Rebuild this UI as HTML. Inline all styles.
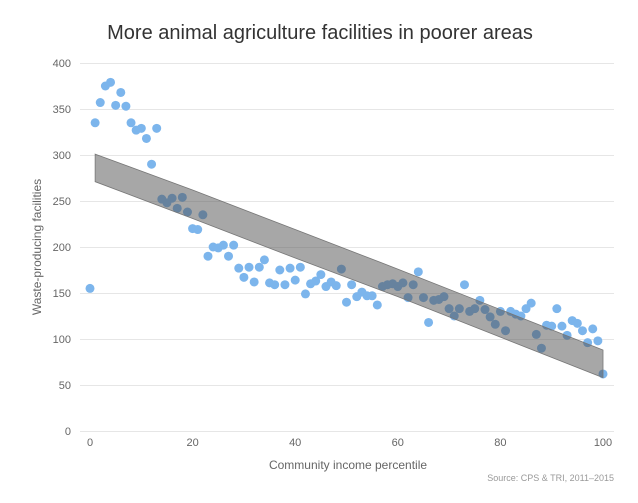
<!DOCTYPE html>
<html><head><meta charset="utf-8"><style>
body{margin:0;background:#fff;font-family:"Liberation Sans",Arial,sans-serif}
svg text{font-family:"Liberation Sans",Arial,sans-serif}
</style></head><body>
<svg id="c" width="638" height="498">
<text x="320" y="39" text-anchor="middle" font-size="20" fill="#333">More animal agriculture facilities in poorer areas</text>
<g id="grid"></g><g id="pts"></g><g id="band"></g><g id="axes"></g>
<text transform="translate(41,247) rotate(-90)" text-anchor="middle" font-size="12" fill="#666">Waste-producing facilities</text>
<text x="348" y="469" text-anchor="middle" font-size="12" fill="#666">Community income percentile</text>
<text x="614" y="481" text-anchor="end" font-size="9" fill="#999">Source: CPS &amp; TRI, 2011–2015</text>
</svg>
<script>
const yTicks=[0,50,100,150,200,250,300,350,400];
const xTicks=[0,20,40,60,80,100];
const values=[155,335,357,375,379,354,368,353,335,327,329,318,290,329,252,248,253,242,254,238,220,219,235,190,200,199,202,190,202,177,167,178,162,178,186,161,159,175,159,177,164,178,149,160,163,170,157,162,158,176,140,159,146,151,147,147,137,157,159,160,157,161,145,159,173,145,118,142,143,146,133,125,133,159,130,133,142,132,124,116,130,109,130,127,125,133,139,105,90,115,114,133,114,104,120,117,109,96,111,98,62];
const bandX=[1,20,40,60,80,100];
const bandHigh=[301,262,219,176,132,88];
const bandLow=[271,231,188,146,102,58];
const ns="http://www.w3.org/2000/svg";
const X=v=>90+v*5.13, Y=v=>431-v*0.92;
function mk(t,a,p){const e=document.createElementNS(ns,t);for(const k in a)e.setAttribute(k,a[k]);p.appendChild(e);return e;}
const grid=document.getElementById('grid'),axes=document.getElementById('axes');
yTicks.forEach(v=>{
 const l=mk('line',{x1:80,x2:614,y1:Y(v)+0.5,y2:Y(v)+0.5,stroke:'#e6e6e6'},grid);
 
 
 const t=mk('text',{x:71,y:Y(v)+4,'text-anchor':'end','font-size':11,fill:'#666'},axes);
 t.textContent=v;
 
 
});
xTicks.forEach(v=>{
 const t=mk('text',{x:X(v),y:446,'text-anchor':'middle','font-size':11,fill:'#666'},axes);
 t.textContent=v;
 
 
});
const pts=document.getElementById('pts');
values.forEach((v,i)=>{
 const c=mk('circle',{cx:X(i),cy:Y(v),r:4.5,fill:'#7cb5ec'},pts);
 
 
});
let d='';
bandX.forEach((x,i)=>{d+=(i?'L':'M')+X(x)+','+Y(bandHigh[i]);});
for(let i=bandX.length-1;i>=0;i--)d+='L'+X(bandX[i])+','+Y(bandLow[i]);
const b=mk('path',{d:d+'Z',fill:'rgba(80,80,80,0.5)',stroke:'#777','stroke-width':0.8},document.getElementById('band'));


</script>
</body></html>
